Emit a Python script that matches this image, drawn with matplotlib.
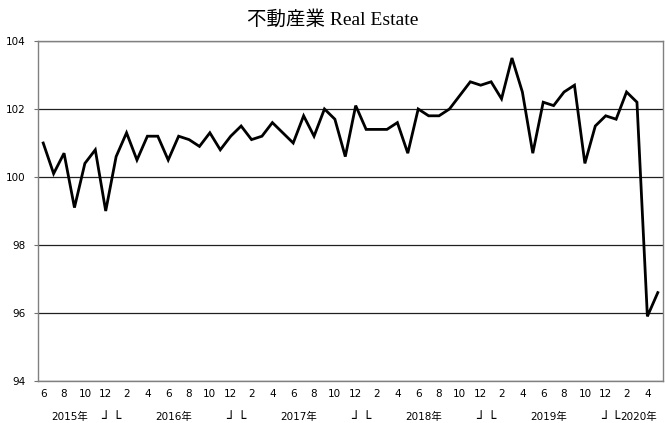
import matplotlib
matplotlib.use("Agg")
import matplotlib.pyplot as plt
import matplotlib.transforms as mtransforms

values = [101.0, 100.1, 100.7, 99.1, 100.4, 100.8, 99.0,
          100.6, 101.3, 100.5, 101.2, 101.2, 100.5, 101.2, 101.1, 100.9, 101.3, 100.8, 101.2,
          101.5, 101.1, 101.2, 101.6, 101.3, 101.0, 101.8, 101.2, 102.0, 101.7, 100.6, 102.1,
          101.4, 101.4, 101.4, 101.6, 100.7, 102.0, 101.8, 101.8, 102.0, 102.4, 102.8, 102.7,
          102.8, 102.3, 103.5, 102.5, 100.7, 102.2, 102.1, 102.5, 102.7, 100.4, 101.5, 101.8,
          101.7, 102.5, 102.2, 95.9, 96.6]
months = [6, 7, 8, 9, 10, 11, 12] + list(range(1, 13)) * 4 + [1, 2, 3, 4, 5]
month_labels = [str(m) for m in months]
year_labels = ["2015年", "2016年", "2017年", "2018年", "2019年"]
year_label_pos = [2.5, 12.5, 24.5, 36.5, 48.5]
title = "不動産業 Real Estate"

W, H = 665, 423
fig = plt.figure(figsize=(W / 100, H / 100), dpi=100)
ax = fig.add_axes([38 / W, 1 - 381 / H, (663 - 38) / W, (381 - 41) / H])

x = list(range(len(values)))
ax.plot(x, values, color="black", lw=2.0, solid_joinstyle="miter")

ax.set_xlim(-0.5, len(values) - 0.5)
ax.set_ylim(94, 104)
ax.set_yticks([94, 96, 98, 100, 102, 104])
ax.set_yticklabels(["94", "96", "98", "100", "102", "104"], fontsize=7.5, family="DejaVu Sans")
ax.yaxis.grid(True, color="#202020", lw=0.9)
ax.set_axisbelow(True)

tick_idx = list(range(0, len(values), 2))
ax.set_xticks(tick_idx)
ax.set_xticklabels([month_labels[i] for i in tick_idx], fontsize=7.5, family="DejaVu Sans")
ax.tick_params(axis="x", length=0, pad=6)
ax.tick_params(axis="y", length=3, width=0.8, color="#707070", pad=6)

for s in ax.spines.values():
    s.set_color("#808080")
    s.set_linewidth(1.0)

trans = mtransforms.blended_transform_factory(ax.transData, ax.transAxes)
fam = ["DejaVu Sans", "Noto Sans CJK JP"]
ylab = -0.106
for lbl, pos in zip(year_labels, year_label_pos):
    ax.text(pos, ylab, lbl, transform=trans, ha="center", va="center", fontsize=7.5, family=fam)

# year boundary marks (December / January)
dec_idx = [i for i, m in enumerate(months) if m == 12]
for d in dec_idx:
    ax.text(d, ylab - 0.005, "┘", transform=trans, ha="center", va="center", fontsize=10,
            family=fam, fontweight="bold")
    if d + 1 < len(values) and d + 1 != 55:
        ax.text(d + 1, ylab - 0.005, "└", transform=trans, ha="center", va="center", fontsize=10,
                family=fam, fontweight="bold")
ax.text(54.5, ylab - 0.005, "└", transform=trans, ha="left", va="center", fontsize=10,
        family=fam, fontweight="bold")
ax.text(55.4, ylab, "2020年", transform=trans, ha="left", va="center", fontsize=7.5, family=fam)

fig.text(0.5, 1 - 20 / H, title, ha="center", va="center", fontsize=14,
         family=["Liberation Serif", "Noto Sans CJK JP"])

fig.savefig("out.png", dpi=100, facecolor="white")
